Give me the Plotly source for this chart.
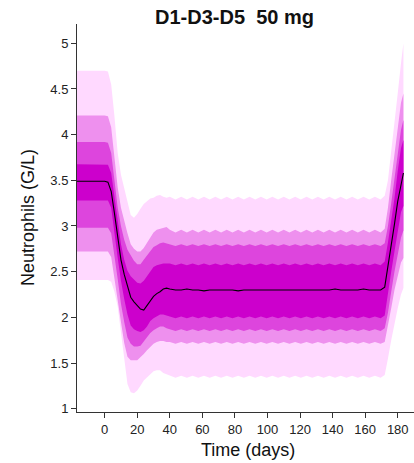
import plotly.graph_objects as go

days = [-17, 0, 2, 4, 6, 8, 10, 12, 14, 16, 18, 20, 22, 24, 26, 28, 30, 32, 34, 36, 38,
        40, 43.5, 47, 50.5, 54, 57.5, 61, 64.5, 68, 71.5, 75, 78.5, 82, 85.5, 89, 92.5,
        96, 99.5, 103, 106.5, 110, 113.5, 117, 120.5, 124, 127.5, 131, 134.5, 138, 141.5,
        145, 148.5, 152, 155.5, 159, 162.5, 166, 169.5,
        172, 174, 176, 178, 180, 182, 183.5]

median = [3.49, 3.49, 3.48, 3.38, 3.14, 2.88, 2.63, 2.47, 2.35, 2.22, 2.17, 2.13, 2.09, 2.08, 2.13, 2.19, 2.23, 2.26, 2.28, 2.31, 2.32,
          2.31, 2.30, 2.30, 2.31, 2.30, 2.30, 2.29, 2.30, 2.30, 2.30, 2.30, 2.30, 2.29, 2.30, 2.30, 2.30,
          2.30, 2.30, 2.30, 2.30, 2.30, 2.30, 2.30, 2.30, 2.30, 2.30, 2.30, 2.30, 2.30, 2.31,
          2.30, 2.30, 2.30, 2.30, 2.31, 2.30, 2.30, 2.30,
          2.33, 2.55, 2.78, 3.02, 3.27, 3.47, 3.58]

outer_top = [4.70, 4.70, 4.69, 4.55, 4.20, 3.80, 3.56, 3.42, 3.27, 3.12, 3.09, 3.13, 3.19, 3.24, 3.27, 3.30, 3.31, 3.33, 3.34, 3.32, 3.31,
             3.32, 3.29, 3.32, 3.29, 3.32, 3.29, 3.32, 3.29, 3.32, 3.29, 3.32, 3.29, 3.32, 3.29, 3.32, 3.29,
             3.32, 3.29, 3.32, 3.29, 3.32, 3.29, 3.32, 3.29, 3.32, 3.29, 3.32, 3.29, 3.32, 3.29,
             3.32, 3.29, 3.32, 3.29, 3.32, 3.29, 3.32, 3.29,
             3.33, 3.50, 3.80, 4.12, 4.45, 4.78, 5.00]

outer_bot = [2.41, 2.41, 2.41, 2.39, 2.28, 2.12, 1.85, 1.55, 1.27, 1.18, 1.17, 1.20, 1.25, 1.31, 1.35, 1.38, 1.41, 1.42, 1.42, 1.39, 1.37,
             1.36, 1.34, 1.36, 1.34, 1.36, 1.34, 1.36, 1.34, 1.36, 1.34, 1.36, 1.34, 1.36, 1.34, 1.36, 1.34,
             1.36, 1.34, 1.36, 1.34, 1.36, 1.34, 1.36, 1.34, 1.36, 1.34, 1.36, 1.34, 1.36, 1.34,
             1.36, 1.34, 1.36, 1.34, 1.36, 1.34, 1.36, 1.34,
             1.37, 1.55, 1.75, 1.93, 2.10, 2.25, 2.32]

violet_top = [4.21, 4.21, 4.20, 4.08, 3.75, 3.42, 3.20, 3.05, 2.92, 2.80, 2.75, 2.72, 2.72, 2.76, 2.82, 2.88, 2.93, 2.96, 2.97, 2.98, 2.99,
              2.96, 2.93, 2.96, 2.93, 2.96, 2.93, 2.96, 2.93, 2.96, 2.93, 2.96, 2.93, 2.96, 2.93, 2.96, 2.93,
              2.96, 2.93, 2.96, 2.93, 2.96, 2.93, 2.96, 2.93, 2.96, 2.93, 2.96, 2.93, 2.96, 2.93,
              2.96, 2.93, 2.96, 2.93, 2.96, 2.93, 2.96, 2.93,
              2.97, 3.20, 3.50, 3.80, 4.10, 4.35, 4.45]

violet_bot = [2.72, 2.72, 2.72, 2.66, 2.45, 2.20, 1.95, 1.72, 1.57, 1.53, 1.53, 1.53, 1.56, 1.60, 1.64, 1.68, 1.71, 1.73, 1.74, 1.74, 1.73,
              1.73, 1.71, 1.73, 1.71, 1.73, 1.71, 1.73, 1.71, 1.73, 1.71, 1.73, 1.71, 1.73, 1.71, 1.73, 1.71,
              1.73, 1.71, 1.73, 1.71, 1.73, 1.71, 1.73, 1.71, 1.73, 1.71, 1.73, 1.71, 1.73, 1.71,
              1.73, 1.71, 1.73, 1.71, 1.73, 1.71, 1.73, 1.71,
              1.73, 1.90, 2.10, 2.30, 2.45, 2.60, 2.65]

mid_top = [3.92, 3.92, 3.91, 3.80, 3.50, 3.20, 3.00, 2.85, 2.74, 2.68, 2.62, 2.58, 2.58, 2.63, 2.68, 2.73, 2.77, 2.79, 2.81, 2.82, 2.81,
           2.80, 2.78, 2.80, 2.78, 2.80, 2.78, 2.80, 2.78, 2.80, 2.78, 2.80, 2.78, 2.80, 2.78, 2.80, 2.78,
           2.80, 2.78, 2.80, 2.78, 2.80, 2.78, 2.80, 2.78, 2.80, 2.78, 2.80, 2.78, 2.80, 2.78,
           2.80, 2.78, 2.80, 2.78, 2.80, 2.78, 2.80, 2.78,
           2.81, 3.00, 3.25, 3.50, 3.80, 4.05, 4.16]

mid_bot = [2.98, 2.98, 2.98, 2.92, 2.70, 2.42, 2.15, 1.95, 1.78, 1.71, 1.68, 1.68, 1.69, 1.73, 1.78, 1.83, 1.86, 1.88, 1.90, 1.90, 1.88,
           1.87, 1.85, 1.87, 1.85, 1.87, 1.85, 1.87, 1.85, 1.87, 1.85, 1.87, 1.85, 1.87, 1.85, 1.87, 1.85,
           1.87, 1.85, 1.87, 1.85, 1.87, 1.85, 1.87, 1.85, 1.87, 1.85, 1.87, 1.85, 1.87, 1.85,
           1.87, 1.85, 1.87, 1.85, 1.87, 1.85, 1.87, 1.85,
           1.88, 2.05, 2.28, 2.50, 2.70, 2.87, 2.95]

inner_top = [3.675, 3.675, 3.67, 3.58, 3.30, 3.02, 2.80, 2.63, 2.51, 2.45, 2.41, 2.38, 2.37, 2.40, 2.45, 2.50, 2.55, 2.57, 2.58, 2.59, 2.59,
             2.59, 2.57, 2.59, 2.57, 2.59, 2.57, 2.59, 2.57, 2.59, 2.57, 2.59, 2.57, 2.59, 2.57, 2.59, 2.57,
             2.59, 2.57, 2.59, 2.57, 2.59, 2.57, 2.59, 2.57, 2.59, 2.57, 2.59, 2.57, 2.59, 2.57,
             2.59, 2.57, 2.59, 2.57, 2.59, 2.57, 2.59, 2.57,
             2.61, 2.82, 3.05, 3.30, 3.60, 3.85, 3.94]

inner_bot = [3.28, 3.28, 3.28, 3.20, 2.95, 2.65, 2.40, 2.20, 2.03, 1.91, 1.87, 1.85, 1.84, 1.86, 1.90, 1.96, 1.99, 2.01, 2.03, 2.03, 2.02,
             2.01, 1.99, 2.01, 1.99, 2.01, 1.99, 2.01, 1.99, 2.01, 1.99, 2.01, 1.99, 2.01, 1.99, 2.01, 1.99,
             2.01, 1.99, 2.01, 1.99, 2.01, 1.99, 2.01, 1.99, 2.01, 1.99, 2.01, 1.99, 2.01, 1.99,
             2.01, 1.99, 2.01, 1.99, 2.01, 1.99, 2.01, 1.99,
             2.02, 2.25, 2.50, 2.72, 2.95, 3.15, 3.22]

x_ticks = [0, 20, 40, 60, 80, 100, 120, 140, 160, 180]
y_ticks = [1, 1.5, 2, 2.5, 3, 3.5, 4, 4.5, 5]
y_ticktext = ["1", "1.5", "2", "2.5", "3", "3.5", "4", "4.5", "5"]

bands = [
    (outer_top, outer_bot, "#FFD9FF"),
    (violet_top, violet_bot, "#EE90EE"),
    (mid_top, mid_bot, "#DD45DD"),
    (inner_top, inner_bot, "#CC00CC"),
]

fig = go.Figure()
for top, bot, col in bands:
    fig.add_trace(go.Scatter(
        x=days + days[::-1], y=top + bot[::-1],
        fill="toself", fillcolor=col, mode="lines",
        line=dict(width=0, color=col), hoverinfo="skip", showlegend=False))

fig.add_trace(go.Scatter(x=days, y=median, mode="lines",
                         line=dict(color="black", width=1.1), showlegend=False))

font_family = "Liberation Sans, Arial, sans-serif"
axis_common = dict(showgrid=False, zeroline=False, showline=True, linecolor="#333",
                   linewidth=1, ticks="outside", ticklen=5, tickwidth=1, tickcolor="#333",
                   tickfont=dict(size=13, family=font_family, color="#222"))

fig.update_layout(
    width=414, height=463,
    margin=dict(l=77, r=0, t=24, b=51),
    plot_bgcolor="white", paper_bgcolor="white",
    xaxis=dict(range=[-17, 190], tickvals=x_ticks, **axis_common),
    yaxis=dict(range=[0.964, 5.211], tickvals=y_ticks, ticktext=y_ticktext, **axis_common),
    annotations=[
        dict(text="<b>D1-D3-D5\u00a0 50 mg</b>", xref="paper", yref="paper",
             x=0.4674, y=1.018, xanchor="center", yanchor="middle", showarrow=False,
             font=dict(size=20, family=font_family, color="#111")),
        dict(text="Neutrophils (G/L)", xref="paper", yref="paper",
             x=-0.1454, y=0.5, xanchor="center", yanchor="middle", textangle=-90,
             showarrow=False, font=dict(size=18, family=font_family, color="#111")),
        dict(text="Time (days)", xref="paper", yref="paper",
             x=0.507, y=-0.098, xanchor="center", yanchor="middle", showarrow=False,
             font=dict(size=18, family=font_family, color="#111")),
    ],
)

fig.write_html("out.html")
